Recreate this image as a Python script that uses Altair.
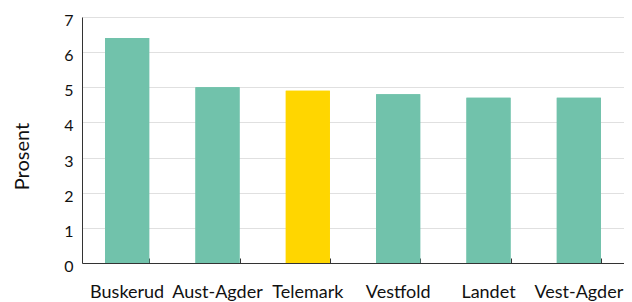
import altair as alt
import pandas as pd

categories = ["Buskerud", "Aust-Agder", "Telemark", "Vestfold", "Landet", "Vest-Agder"]
values = [6.4, 5.0, 4.9, 4.8, 4.7, 4.7]
highlight = ["Telemark"]
y_ticks = [0, 1, 2, 3, 4, 5, 6, 7]

df = pd.DataFrame({"region": categories, "prosent": values})
df["hl"] = df["region"].isin(highlight).map({True: "ja", False: "nei"})

FONT = "Lato"
TXT = "#111111"
AX = "#333333"

xscale = alt.Scale(paddingInner=0.512, paddingOuter=0.256)
yscale = alt.Scale(domain=[0, 7])
color = alt.Color("hl:N", scale=alt.Scale(domain=["ja", "nei"], range=["#ffd600", "#71c2ab"]),
                  legend=None)

yaxis = alt.Axis(values=y_ticks, tickSize=0, labelPadding=9, labelOffset=3.5,
                 labelFontSize=16, labelColor=TXT, labelFont=FONT,
                 titleFont=FONT, titleFontSize=20, titleFontWeight="normal",
                 titleColor=TXT, titleX=-50, titleY=139, titleAngle=270,
                 titleBaseline="bottom", titleAlign="center",
                 domainColor=AX, gridColor="#e0e0e0")

base = alt.Chart(df)

bars = base.mark_bar().encode(
    x=alt.X("region:N", sort=categories, title=None, scale=xscale,
            axis=alt.Axis(orient="bottom", labelAngle=0, labelFontSize=18, labelColor=TXT,
                          labelFont=FONT, labelPadding=20, ticks=False,
                          domainColor=AX, grid=False)),
    y=alt.Y("prosent:Q", title="Prosent", scale=yscale, axis=yaxis),
    color=color,
)

tickl = base.mark_bar().encode(
    x=alt.X("region:N", sort=categories, title=None, scale=xscale,
            axis=alt.Axis(orient="bottom", labels=False, domain=False, ticks=True,
                          tickBand="extent", tickSize=5, tickColor=AX, offset=-5,
                          grid=False)),
    y=alt.Y("prosent:Q", title="Prosent", scale=yscale, axis=yaxis),
    color=color,
)

chart = alt.layer(bars, tickl).resolve_axis(x="independent").properties(
    width=542, height=246,
    autosize=alt.AutoSizeParams(type="none"),
    padding={"left": 74, "top": 9, "right": 0, "bottom": 40},
).configure_view(stroke=None)

chart.save("out.html", embed_options={"renderer": "svg", "actions": False})
